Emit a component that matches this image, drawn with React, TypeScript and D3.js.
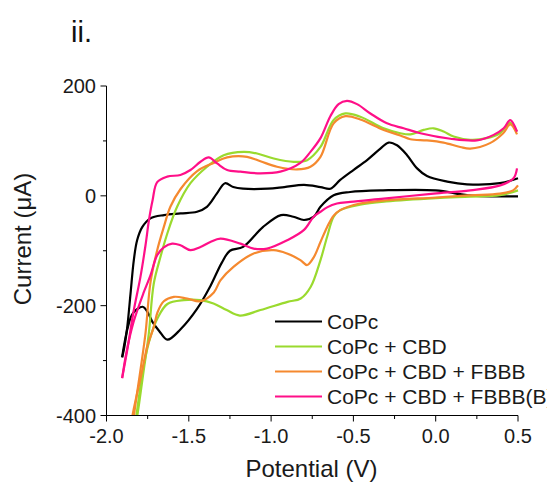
import React from "react";
import * as d3 from "d3";

// Cyclic voltammograms: [potential (V), current (µA)] pairs.
// Each scan is stored as its cathodic sweep (0.5 V -> -1.9 V) and anodic sweep (-1.9 V -> 0.5 V).

const copcCathodic: [number, number][] = [
  [0.5, -1], [0.2, 1], [0.0, 10], [-0.32, 10], [-0.52, 7], [-0.62, 1], [-0.7, -20],
  [-0.74, -38], [-0.8, -44], [-0.865, -38], [-0.94, -35], [-1.05, -57], [-1.17, -93],
  [-1.25, -100], [-1.3, -122], [-1.37, -165], [-1.45, -206], [-1.55, -243], [-1.63, -262],
  [-1.68, -246], [-1.72, -230], [-1.75, -212], [-1.78, -202], [-1.84, -214], [-1.87, -239],
  [-1.895, -275], [-1.905, -294],
];
const copcAnodic: [number, number][] = [
  [-1.905, -294], [-1.895, -281], [-1.874, -239], [-1.854, -178], [-1.834, -117],
  [-1.814, -81], [-1.783, -57], [-1.733, -41], [-1.65, -35], [-1.55, -32], [-1.45, -29],
  [-1.39, -20], [-1.33, 4], [-1.28, 23], [-1.23, 16], [-1.17, 13], [-1.02, 13], [-0.92, 16],
  [-0.8, 20], [-0.7, 16], [-0.64, 13], [-0.58, 29], [-0.5, 47], [-0.417, 65], [-0.336, 86],
  [-0.286, 97], [-0.235, 92], [-0.174, 74], [-0.113, 50], [-0.053, 36], [0.07, 26],
  [0.19, 21], [0.39, 23], [0.5, 32],
];

const cbdCathodic: [number, number][] = [
  [0.5, 10], [0.39, 1], [0.21, -1.5], [0.0, -4], [-0.3, -10], [-0.46, -16], [-0.58, -26],
  [-0.62, -38], [-0.66, -75], [-0.7, -117], [-0.76, -166], [-0.82, -187], [-0.9, -193],
  [-1.065, -208], [-1.19, -218], [-1.27, -208], [-1.35, -196], [-1.43, -190], [-1.53, -190],
  [-1.63, -197], [-1.69, -223], [-1.733, -257], [-1.774, -309], [-1.806, -373],
  [-1.83, -427], [-1.87, -520], [-1.9, -600],
];
const cbdAnodic: [number, number][] = [
  [-1.9, -600], [-1.86, -490], [-1.814, -403], [-1.774, -318], [-1.743, -251],
  [-1.713, -160], [-1.672, -111], [-1.631, -69], [-1.571, -20], [-1.49, 23], [-1.389, 53],
  [-1.288, 74], [-1.166, 80], [-1.085, 77], [-0.984, 68], [-0.863, 62], [-0.781, 65],
  [-0.7, 89], [-0.62, 138], [-0.549, 150], [-0.458, 144], [-0.316, 123], [-0.215, 114],
  [-0.154, 112], [-0.073, 120], [-0.013, 123], [0.048, 117], [0.109, 108], [0.21, 102],
  [0.31, 105], [0.39, 114], [0.453, 133], [0.494, 117],
];

const fbbbCathodic: [number, number][] = [
  [0.5, 19], [0.47, 10], [0.39, 4], [0.21, 1], [0.0, -3], [-0.3, -8], [-0.46, -14],
  [-0.58, -26], [-0.62, -36], [-0.66, -57], [-0.7, -84], [-0.741, -112], [-0.781, -126],
  [-0.822, -117], [-0.903, -105], [-0.984, -99], [-1.106, -105], [-1.227, -129],
  [-1.308, -154], [-1.348, -176], [-1.429, -192], [-1.51, -187], [-1.591, -184],
  [-1.652, -192], [-1.69, -212], [-1.713, -239], [-1.753, -275], [-1.783, -318],
  [-1.814, -360], [-1.844, -403], [-1.9, -520],
];
const fbbbAnodic: [number, number][] = [
  [-1.9, -640], [-1.86, -500], [-1.834, -403], [-1.794, -318], [-1.763, -250],
  [-1.733, -158], [-1.692, -99], [-1.652, -57], [-1.612, -20], [-1.551, 12], [-1.449, 45],
  [-1.349, 60], [-1.267, 70], [-1.146, 71], [-1.065, 63], [-0.964, 53], [-0.842, 48],
  [-0.761, 53], [-0.7, 71], [-0.62, 132], [-0.549, 145], [-0.458, 139], [-0.316, 120],
  [-0.215, 110], [-0.154, 103], [-0.053, 101], [0.048, 97], [0.149, 89], [0.21, 86],
  [0.33, 96], [0.41, 114], [0.453, 130], [0.494, 112],
];

const fbbbBCathodic: [number, number][] = [
  [0.494, 50], [0.473, 32], [0.392, 19], [0.21, 10], [-0.013, 4], [-0.316, -5],
  [-0.519, -11], [-0.6, -14], [-0.66, -21], [-0.7, -29], [-0.741, -38], [-0.8, -62],
  [-0.903, -81], [-1.024, -96], [-1.106, -96], [-1.186, -87], [-1.308, -78],
  [-1.369, -84], [-1.429, -93], [-1.49, -99], [-1.551, -90], [-1.601, -87], [-1.652, -94],
  [-1.692, -108], [-1.733, -145], [-1.774, -176], [-1.836, -230], [-1.879, -285],
  [-1.905, -332],
];
const fbbbBAnodic: [number, number][] = [
  [-1.905, -332], [-1.874, -281], [-1.834, -208], [-1.794, -148], [-1.763, -90],
  [-1.742, -44], [-1.72, -8], [-1.692, 25], [-1.631, 35], [-1.551, 38], [-1.49, 47],
  [-1.429, 62], [-1.379, 70], [-1.328, 59], [-1.267, 47], [-1.186, 44], [-1.065, 41],
  [-0.944, 44], [-0.822, 60], [-0.761, 80], [-0.7, 105], [-0.64, 145], [-0.59, 167],
  [-0.539, 173], [-0.478, 167], [-0.397, 150], [-0.296, 132], [-0.195, 123],
  [-0.093, 114], [0.089, 104], [0.25, 101], [0.352, 111], [0.413, 123], [0.453, 138],
  [0.494, 117],
];

const seriesNames = ["CoPc", "CoPc + CBD", "CoPc + CBD + FBBB", "CoPc + CBD + FBBB(B)"];
const seriesColors = ["#000000", "#9ada2e", "#f5892f", "#ff0f88"];
const seriesScans = [
  [copcCathodic, copcAnodic],
  [cbdCathodic, cbdAnodic],
  [fbbbCathodic, fbbbAnodic],
  [fbbbBCathodic, fbbbBAnodic],
];

const xDomain: [number, number] = [-2.0, 0.5];
const yDomain: [number, number] = [-400, 200];
const xMajorTicks = [-2.0, -1.5, -1.0, -0.5, 0.0, 0.5];
const xMinorTicks = [-1.75, -1.25, -0.75, -0.25, 0.25];
const yMajorTicks = [-400, -200, 0, 200];
const yMinorTicks = [-300, -100, 100];

const W = 547;
const H = 483;
const FONT = "'Liberation Sans', Arial, Helvetica, sans-serif";

export default function App() {
  const x = d3.scaleLinear().domain(xDomain).range([106.5, 518]);
  const y = d3.scaleLinear().domain(yDomain).range([415.5, 86]);

  const line = d3
    .line<[number, number]>()
    .x((d) => x(d[0]))
    .y((d) => y(d[1]))
    .curve(d3.curveCatmullRom.alpha(0.5));

  const x0 = x(xDomain[0]);
  const x1 = x(xDomain[1]);
  const yTop = y(yDomain[1]);
  const yBot = y(yDomain[0]);

  return (
    <svg
      width={W}
      height={H}
      style={{ position: "absolute", left: 0, top: 0, background: "#fff" }}
      fontFamily={FONT}
    >
      <defs>
        <clipPath id="plot-clip">
          <rect x={x0} y={yTop - 10} width={x1 - x0 + 2} height={yBot - yTop + 10} />
        </clipPath>
      </defs>
      <rect x={0} y={0} width={W} height={H} fill="#fff" />

      <text x={71} y={42} fontSize={29} fill="#111">ii.</text>

      {/* curves */}
      <g clipPath="url(#plot-clip)" fill="none" strokeWidth={2.2} strokeLinejoin="round">
        {seriesScans.map((scans, i) => (
          <g key={seriesNames[i]} stroke={seriesColors[i]}>
            {scans.map((s, j) => (
              <path key={j} d={line(s) || ""} />
            ))}
          </g>
        ))}
      </g>

      {/* axes */}
      <g stroke="#000" strokeWidth={1}>
        <line x1={x0} x2={x1} y1={yBot} y2={yBot} />
        <line x1={x0} x2={x0} y1={yTop} y2={yBot} />
        {xMajorTicks.map((t) => (
          <line key={"xM" + t} x1={x(t)} x2={x(t)} y1={yBot} y2={yBot + 6} />
        ))}
        {xMinorTicks.map((t) => (
          <line key={"xm" + t} x1={x(t)} x2={x(t)} y1={yBot} y2={yBot + 3.5} />
        ))}
        {yMajorTicks.map((t) => (
          <line key={"yM" + t} x1={x0 - 6} x2={x0} y1={y(t)} y2={y(t)} />
        ))}
        {yMinorTicks.map((t) => (
          <line key={"ym" + t} x1={x0 - 3.5} x2={x0} y1={y(t)} y2={y(t)} />
        ))}
      </g>

      <g fontSize={20} fill="#1a1a1a">
        {xMajorTicks.map((t) => (
          <text key={"xl" + t} x={x(t)} y={443} textAnchor="middle">
            {d3.format(".1f")(t).replace("−", "-")}
          </text>
        ))}
        {yMajorTicks.map((t) => (
          <text key={"yl" + t} x={96} y={y(t) + 7} textAnchor="end">
            {String(t)}
          </text>
        ))}
      </g>

      <text x={311.5} y={477} fontSize={24} textAnchor="middle" fill="#1a1a1a">
        Potential (V)
      </text>
      <text
        transform="translate(30.5,239) rotate(-90)"
        fontSize={24}
        textAnchor="middle"
        fill="#1a1a1a"
      >
        Current (μA)
      </text>

      {/* legend */}
      <g>
        {seriesNames.map((name, i) => {
          const ly = 321.5 + i * 25;
          return (
            <g key={name}>
              <line x1={275} x2={322} y1={ly} y2={ly} stroke={seriesColors[i]} strokeWidth={2.2} />
              <text x={327} y={ly + 7} fontSize={21} fill="#1a1a1a">
                {name}
              </text>
            </g>
          );
        })}
      </g>
    </svg>
  );
}
